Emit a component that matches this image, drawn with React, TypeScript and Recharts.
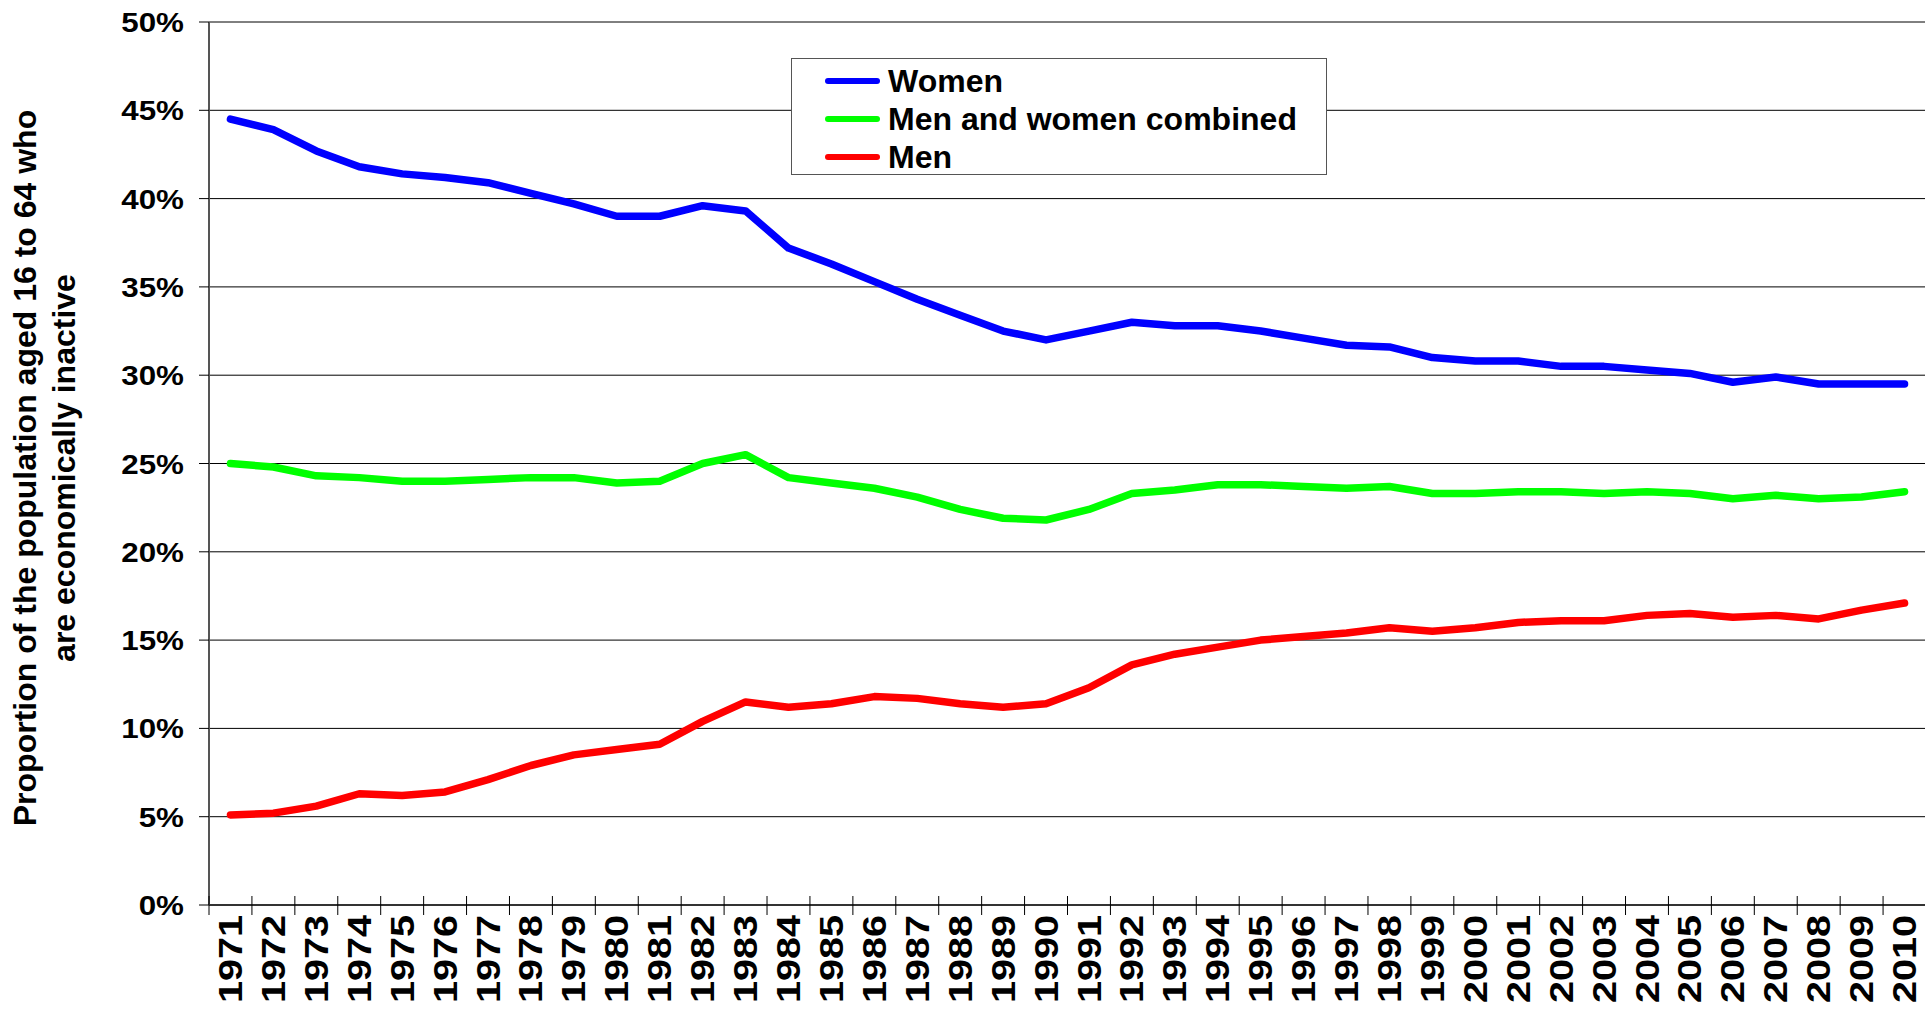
import React from 'react';
import { LineChart, Line, XAxis, YAxis, CartesianGrid, Legend } from 'recharts';

const years = [
  '1971', '1972', '1973', '1974', '1975', '1976', '1977', '1978', '1979', '1980',
  '1981', '1982', '1983', '1984', '1985', '1986', '1987', '1988', '1989', '1990',
  '1991', '1992', '1993', '1994', '1995', '1996', '1997', '1998', '1999', '2000',
  '2001', '2002', '2003', '2004', '2005', '2006', '2007', '2008', '2009', '2010'
];

// percent of population aged 16-64 economically inactive
const women = [
  44.5, 43.9, 42.7, 41.8, 41.4, 41.2, 40.9, 40.3, 39.7, 39.0,
  39.0, 39.6, 39.3, 37.2, 36.3, 35.3, 34.3, 33.4, 32.5, 32.0,
  32.5, 33.0, 32.8, 32.8, 32.5, 32.1, 31.7, 31.6, 31.0, 30.8,
  30.8, 30.5, 30.5, 30.3, 30.1, 29.6, 29.9, 29.5, 29.5, 29.5
];
const combined = [
  25.0, 24.8, 24.3, 24.2, 24.0, 24.0, 24.1, 24.2, 24.2, 23.9,
  24.0, 25.0, 25.5, 24.2, 23.9, 23.6, 23.1, 22.4, 21.9, 21.8,
  22.4, 23.3, 23.5, 23.8, 23.8, 23.7, 23.6, 23.7, 23.3, 23.3,
  23.4, 23.4, 23.3, 23.4, 23.3, 23.0, 23.2, 23.0, 23.1, 23.4
];
const men = [
  5.1, 5.2, 5.6, 6.3, 6.2, 6.4, 7.1, 7.9, 8.5, 8.8,
  9.1, 10.4, 11.5, 11.2, 11.4, 11.8, 11.7, 11.4, 11.2, 11.4,
  12.3, 13.6, 14.2, 14.6, 15.0, 15.2, 15.4, 15.7, 15.5, 15.7,
  16.0, 16.1, 16.1, 16.4, 16.5, 16.3, 16.4, 16.2, 16.7, 17.1
];
const yTicks = [0, 5, 10, 15, 20, 25, 30, 35, 40, 45, 50];

const series = [
  { key: 'women', name: 'Women', color: '#0000ff' },
  { key: 'combined', name: 'Men and women combined', color: '#00ff00' },
  { key: 'men', name: 'Men', color: '#ff0000' }
];

const data = years.map((year, i) => ({
  year,
  women: women[i],
  combined: combined[i],
  men: men[i]
}));

const FONT = '"Liberation Sans", Arial, Helvetica, sans-serif';
const CHART_W = 1928;
const CHART_H = 1009;
const Y_AXIS_W = 209;
const MARGIN = { top: 22, right: 2, left: 0, bottom: 0 };
const HALF_BAND = (CHART_W - Y_AXIS_W - MARGIN.left - MARGIN.right) / years.length / 2;

const YTick = (props: any) => {
  const { x, y, payload } = props;
  return (
    <text x={x} y={y} dy="0.36em" textAnchor="end" fontSize={28} fontWeight="bold"
      fontFamily={FONT} fill="#000"
      transform={`translate(${x} ${y}) scale(1.12 1) translate(${-x} ${-y})`}>
      {payload.value}%
    </text>
  );
};

const XTick = (props: any) => {
  const { x, y, payload, index } = props;
  const left = x - HALF_BAND;
  const ty = y + 10;
  return (
    <g>
      <line x1={left} x2={left} y1={y - 9} y2={y + 10} stroke="#000" strokeWidth={1} />
      {index === years.length - 1 && (
        <line x1={x + HALF_BAND} x2={x + HALF_BAND} y1={y - 9} y2={y + 10} stroke="#000" strokeWidth={1} />
      )}
      <text x={x} y={ty} dy="0.35em" textAnchor="end" fontSize={33} fontWeight="bold"
        fontFamily={FONT} fill="#000"
        transform={`rotate(-90 ${x} ${ty}) translate(${x} ${ty}) scale(1.2 1) translate(${-x} ${-ty})`}>
        {payload.value}
      </text>
    </g>
  );
};

const AxisTitle = () => (
  <g fontFamily={FONT} fontWeight="bold" fontSize={32} fill="#000">
    <text transform="translate(36 468) rotate(-90)" textAnchor="middle">
      Proportion of the population aged 16 to 64 who
    </text>
    <text transform="translate(75 468) rotate(-90)" textAnchor="middle">
      are economically inactive
    </text>
  </g>
);

const LegendBox = () => (
  <div style={{
    boxSizing: 'border-box', width: 536, height: 117, border: '1px solid #555',
    background: '#fff', padding: '3px 0 0 33px'
  }}>
    {series.map(s => (
      <div key={s.key} style={{ display: 'flex', alignItems: 'center', height: 38 }}>
        <svg width={55} height={10} style={{ display: 'block' }}>
          <line x1={3} x2={52} y1={5} y2={5} stroke={s.color} strokeWidth={6} strokeLinecap="round" />
        </svg>
        <span style={{
          marginLeft: 8, fontSize: 32, fontWeight: 'bold', fontFamily: FONT,
          color: '#000', lineHeight: '38px', whiteSpace: 'nowrap'
        }}>{s.name}</span>
      </div>
    ))}
  </div>
);

export default function App() {
  return (
    <div style={{
      position: 'fixed', left: 0, top: 0, width: 1925, height: 1009,
      overflow: 'hidden', background: '#fff', fontFamily: FONT
    }}>
      <LineChart width={CHART_W} height={CHART_H} data={data} margin={MARGIN}>
        <CartesianGrid vertical={false} stroke="#000" strokeWidth={1} />
        <XAxis dataKey="year" interval={0} height={104} tickSize={0} tickMargin={0}
          tickLine={false} tick={<XTick />}
          padding={{ left: HALF_BAND, right: HALF_BAND }}
          axisLine={{ stroke: '#333', strokeWidth: 2 }} />
        <YAxis domain={[0, 50]} ticks={yTicks} width={Y_AXIS_W} tickSize={10} tickMargin={15}
          interval={0} tick={<YTick />} tickLine={{ stroke: '#000' }}
          axisLine={{ stroke: '#555', strokeWidth: 2 }} />
        <Legend layout="vertical" align="center" verticalAlign="middle"
          content={<LegendBox />}
          wrapperStyle={{ left: 791, top: 58, width: 536, height: 117 }} />
        {series.map(s => (
          <Line key={s.key} type="linear" dataKey={s.key} name={s.name} stroke={s.color}
            strokeWidth={7.5} dot={false} activeDot={false} strokeLinecap="round"
            strokeLinejoin="round" isAnimationActive={false} />
        ))}
        <AxisTitle />
      </LineChart>
    </div>
  );
}
